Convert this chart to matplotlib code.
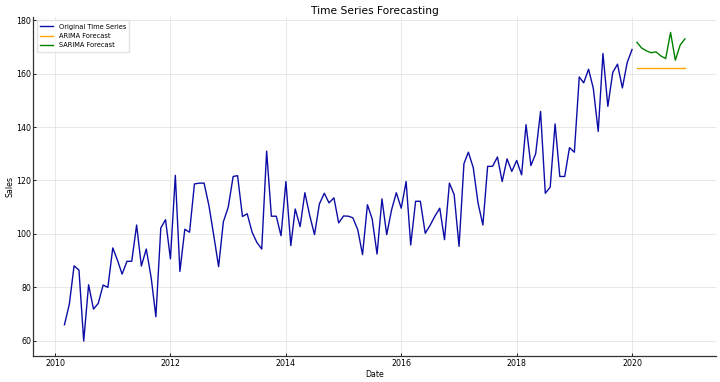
import matplotlib
matplotlib.use("Agg")
import matplotlib.pyplot as plt
import pandas as pd

# monthly sales, Mar 2010 - Jan 2020
sales = [65.9, 73.6, 88.0, 86.4, 59.8, 80.9, 71.8, 73.9, 80.8, 79.9,
         94.7, 89.9, 84.9, 89.7, 89.7, 103.3, 87.9, 94.3, 83.6, 68.9,
         102.2, 105.3, 90.6, 121.9, 85.9, 101.7, 100.6, 118.7, 119.0, 119.0,
         110.5, 99.5, 87.7, 104.5, 110.0, 121.5, 121.8, 106.5, 107.5, 100.6,
         96.8, 94.3, 131.0, 106.6, 106.6, 99.3, 119.6, 95.6, 109.3, 102.7,
         115.4, 106.8, 99.7, 111.2, 115.2, 111.6, 113.5, 104.1, 106.7, 106.6,
         106.0, 101.5, 92.2, 110.9, 105.6, 92.4, 113.1, 99.7, 109.0, 115.4,
         109.6, 119.6, 95.8, 112.2, 112.2, 100.2, 103.1, 106.6, 109.6, 97.8,
         119.0, 114.7, 95.3, 126.3, 130.6, 124.8, 111.6, 103.3, 125.3, 125.3,
         128.8, 119.6, 128.1, 123.4, 127.5, 122.1, 140.9, 125.6, 130.0, 145.9,
         115.2, 117.5, 141.2, 121.5, 121.5, 132.3, 130.6, 158.8, 156.6, 161.7,
         154.5, 138.4, 167.6, 147.8, 160.5, 163.6, 154.7, 164.1, 169.1]
dates = pd.date_range("2010-03-01", periods=len(sales), freq="MS")

# forecasts, Feb 2020 - Dec 2020
arima_fc = [162.1] * 11
sarima_fc = [171.8, 169.7, 168.6, 167.9, 168.2, 166.7, 165.7, 175.5, 165.1, 170.8, 173.1]
fc_dates = pd.date_range("2020-02-01", periods=len(sarima_fc), freq="MS")

fig = plt.figure(figsize=(7.2, 3.82), dpi=100)
ax = fig.add_axes([0.0464, 0.0668, 0.948, 0.8887])

ax.plot(dates, sales, color="#0c0ca6", lw=1.0, label="Original Time Series")
ax.plot(fc_dates, arima_fc, color="orange", lw=1.0, label="ARIMA Forecast")
ax.plot(fc_dates, sarima_fc, color="green", lw=1.0, label="SARIMA Forecast")

ax.set_title("Time Series Forecasting", fontsize=7.7, pad=2.5)
ax.set_xlabel("Date", fontsize=5.7, labelpad=1.5)
ax.set_ylabel("Sales", fontsize=5.7, labelpad=1)
ax.tick_params(labelsize=5.7, length=2.5, width=0.6, pad=1.5, direction="in")

ax.grid(True, color="#e4e4e4", lw=0.6)
ax.set_axisbelow(True)
for s in ["top", "right"]:
    ax.spines[s].set_visible(False)
for s in ["left", "bottom"]:
    ax.spines[s].set_color("#333333")
    ax.spines[s].set_linewidth(0.9)

ax.legend(loc="upper left", fontsize=4.8, frameon=True, edgecolor="#dddddd",
          fancybox=False, borderpad=0.5, handlelength=2.0)

fig.savefig("out.png", dpi=100)
